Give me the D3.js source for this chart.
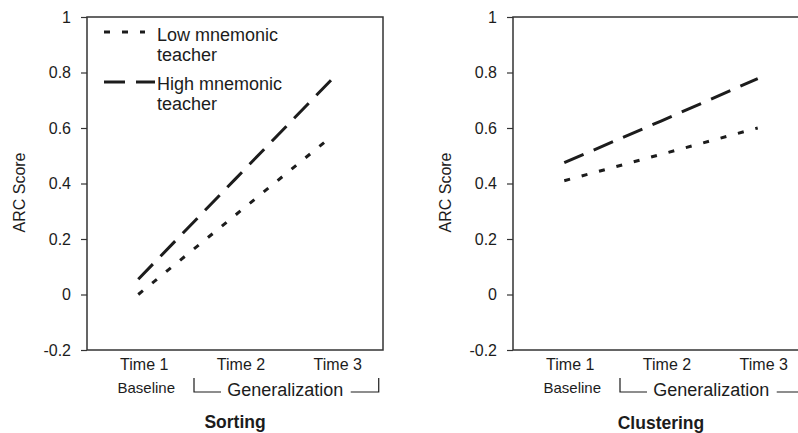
<!DOCTYPE html>
<html lang="en">
<head>
    <meta charset="UTF-8">
    <title>ARC Score: Sorting and Clustering</title>
    <script src="https://d3js.org/d3.v7.min.js"></script>
    <style>
        body, html {
            margin: 0;
            padding: 0;
            background: #fff;
        }
        svg {
            display: block;
            font-family: "Liberation Sans", Arial, sans-serif;
        }
    </style>
</head>
<body>
    <script>
        // Chart data
        const times = ["Time 1", "Time 2", "Time 3"];
        const yTicks = [-0.2, 0, 0.2, 0.4, 0.6, 0.8, 1];
        const sortingLow = [0.00, 0.285, 0.57];
        const sortingHigh = [0.055, 0.415, 0.775];
        const clusteringLow = [0.41, 0.505, 0.60];
        const clusteringHigh = [0.475, 0.625, 0.778];
        const seriesNames = ["Low mnemonic teacher", "High mnemonic teacher"];
        const legendLines = [["Low mnemonic", "teacher"], ["High mnemonic", "teacher"]];
        const panelTitles = ["Sorting", "Clustering"];

        const width = 798;
        const height = 433;
        const ink = "#1c1c1c";

        const svg = d3.select("body")
            .append("svg")
            .attr("width", width)
            .attr("height", height);

        // plot box size, same for both panels
        const plotW = 296;
        const plotH = 333;
        const marginTop = 17;

        const y = d3.scaleLinear().domain([-0.2, 1]).range([plotH, 0]);
        const x = d3.scalePoint().domain(times).range([0, plotW]).padding(0.53);

        const dashes = ["6,12", "21,11"];

        const panels = [
            { left: 87, title: panelTitles[0], low: sortingLow, high: sortingHigh, legend: true },
            { left: 513, title: panelTitles[1], low: clusteringLow, high: clusteringHigh, legend: false }
        ];

        const line = d3.line()
            .x((d, i) => x(times[i]))
            .y(d => y(d));

        panels.forEach(p => {
            const g = svg.append("g").attr("transform", `translate(${p.left},${marginTop})`);

            // frame
            g.append("rect")
                .attr("width", plotW)
                .attr("height", plotH)
                .attr("fill", "none")
                .attr("stroke", "#333")
                .attr("stroke-width", 1.5);

            // y axis ticks
            const ax = g.append("g")
                .call(d3.axisLeft(y)
                    .tickValues(yTicks)
                    .tickSize(6)
                    .tickPadding(10)
                    .tickFormat(d => String(+d.toFixed(1))));
            ax.select(".domain").remove();
            ax.selectAll(".tick line").attr("stroke", "#333").attr("stroke-width", 1.2);
            ax.selectAll(".tick text")
                .attr("fill", ink)
                .style("font-size", "16px")
                .style("font-family", "'Liberation Sans', Arial, sans-serif");

            // y axis title
            g.append("text")
                .attr("transform", `translate(-62,${plotH / 2 + 9}) rotate(-90)`)
                .attr("text-anchor", "middle")
                .attr("fill", ink)
                .style("font-size", "16px")
                .text("ARC Score");

            // series lines
            [p.low, p.high].forEach((vals, k) => {
                g.append("path")
                    .datum(vals)
                    .attr("d", line)
                    .attr("fill", "none")
                    .attr("stroke", ink)
                    .attr("stroke-width", 3)
                    .attr("stroke-dasharray", dashes[k])
                    .append("title").text(seriesNames[k]);
            });

            // x labels
            g.selectAll(".xlab")
                .data(times)
                .enter()
                .append("text")
                .attr("class", "xlab")
                .attr("x", d => x(d) + 6)
                .attr("y", 370 - marginTop)
                .attr("text-anchor", "middle")
                .attr("fill", ink)
                .style("font-size", "16px")
                .text(d => d);

            g.append("text")
                .attr("x", x(times[0]) + 8)
                .attr("y", 393 - marginTop)
                .attr("text-anchor", "middle")
                .attr("fill", ink)
                .style("font-size", "15px")
                .text("Baseline");

            // generalization bracket
            const bx0 = x(times[1]) - 41;
            const bx1 = x(times[2]) + 47;
            const by = 392 - marginTop;
            g.append("path")
                .attr("d", `M${bx0},${by - 14}V${by}H${bx0 + 27}M${bx1 - 28},${by}H${bx1}V${by - 14}`)
                .attr("fill", "none")
                .attr("stroke", ink)
                .attr("stroke-width", 1.2);
            g.append("text")
                .attr("x", (bx0 + bx1) / 2 - 1)
                .attr("y", 396 - marginTop)
                .attr("text-anchor", "middle")
                .attr("fill", ink)
                .style("font-size", "18px")
                .text("Generalization");

            // panel title
            g.append("text")
                .attr("x", plotW / 2)
                .attr("y", (p.legend ? 428 : 429) - marginTop)
                .attr("text-anchor", "middle")
                .attr("fill", ink)
                .style("font-size", "17.5px")
                .style("font-weight", "bold")
                .text(p.title);

            // legend (first panel only)
            if (p.legend) {
                const lg = g.append("g").attr("transform", "translate(17,0)");
                const rowsY = [15, 65];
                legendLines.forEach((lines, k) => {
                    lg.append("line")
                        .attr("x1", 0)
                        .attr("x2", k === 0 ? 41 : 51)
                        .attr("y1", rowsY[k])
                        .attr("y2", rowsY[k])
                        .attr("stroke", ink)
                        .attr("stroke-width", 3)
                        .attr("stroke-dasharray", dashes[k]);
                    lines.forEach((t, j) => {
                        lg.append("text")
                            .attr("x", 53)
                            .attr("y", rowsY[k] + 9 + j * 20 - (k === 0 ? 0 : 1))
                            .attr("fill", ink)
                            .style("font-size", "18px")
                            .text(t);
                    });
                });
            }
        });
    </script>
</body>
</html>
